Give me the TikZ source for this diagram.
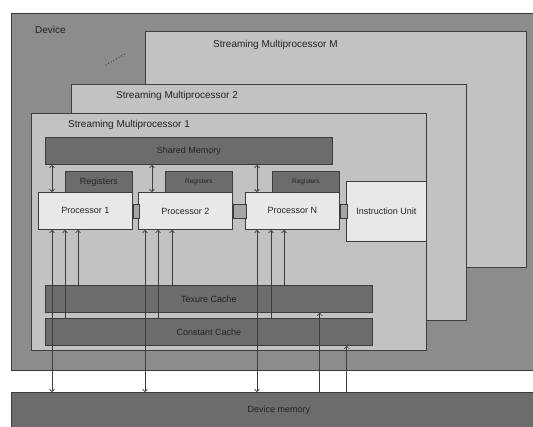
\documentclass[tikz,border=0pt]{standalone}
\usepackage{fontspec}
\setsansfont{Liberation Sans}
\usetikzlibrary{arrows.meta}
\definecolor{devgray}{RGB}{140,140,140}
\definecolor{smgray}{RGB}{194,194,194}
\definecolor{memgray}{RGB}{108,108,108}
\definecolor{progray}{RGB}{232,232,232}
\definecolor{linkgray}{RGB}{165,165,165}
\definecolor{edgegray}{RGB}{60,60,60}
\definecolor{txtgray}{RGB}{35,35,35}
\begin{document}
\begin{tikzpicture}[x=1pt,y=-1pt,font=\sffamily,text=txtgray,
 >={Straight Barb[length=2.5pt,width=5pt]},
 box/.style={draw=edgegray,line width=0.8pt,anchor=north west,inner sep=0pt},
 mem/.style={box,fill=memgray,font=\sffamily\fontsize{9}{10}\selectfont},
 proc/.style={box,fill=progray,minimum width=94pt,minimum height=37pt,font=\sffamily\fontsize{9}{10}\selectfont},
 regs/.style={box,fill=memgray,minimum width=67pt,minimum height=21pt,font=\sffamily\fontsize{6.5}{7}\selectfont},
 link/.style={box,fill=linkgray,anchor=west,minimum height=14pt},
 sm/.style={box,fill=smgray},
 title/.style={anchor=west,inner sep=0pt},
 wire/.style={draw=edgegray,line width=0.7pt}]
\useasboundingbox[fill=white] (0,0) rectangle (533,426);

% device and the multiprocessors
\node[box,fill=devgray,minimum width=523pt,minimum height=357pt] (dev) at (11,13) {};
\node[title] (devt) at (35,30) {Device};
\node[sm,minimum width=381pt,minimum height=236pt] (smm) at (145,31) {};
\node[title] (smmt) at (213,45) {Streaming Multiprocessor M};
\draw[edgegray,line width=1.3pt,line cap=round,dash pattern=on 0pt off 3pt] (106,65) -- (125,54);
\node[sm,minimum width=395pt,minimum height=236pt] (sm2) at (71,84) {};
\node[title] (sm2t) at (116,96) {Streaming Multiprocessor 2};
\node[sm,minimum width=395pt,minimum height=237pt] (sm1) at (31,113) {};
\node[title] (sm1t) at (68,125) {Streaming Multiprocessor 1};

% inside multiprocessor 1
\node[mem,minimum width=287pt,minimum height=27pt] (sm) at (45,137) {Shared Memory};
\node[regs,font=\sffamily\fontsize{9}{10}\selectfont] (r1) at (65,171) {Registers};
\node[regs] (r2) at (165,171) {Registers};
\node[regs] (rn) at (272,171) {Registers};
\node[proc] (p1) at (38,192) {Processor 1};
\node[proc] (p2) at (138,192) {Processor 2};
\node[proc] (pn) at (245,192) {Processor N};
\node[box,fill=progray,minimum width=80pt,minimum height=60pt,font=\sffamily\fontsize{9}{10}\selectfont] (iu) at (346,181) {Instruction Unit};
\node[link,minimum width=6pt] (l1) at (p1.east) {};
\node[link,minimum width=13pt] (l2) at (p2.east) {};
\node[link,minimum width=7pt] (l3) at (pn.east) {};
\node[mem,minimum width=327pt,minimum height=27pt] (tc) at (45,285) {Texure Cache};
\node[mem,minimum width=327pt,minimum height=27pt] (cc) at (45,318) {Constant Cache};
\node[mem,minimum width=530pt,minimum height=40pt] (dm) at (11,392) {};
\node (dmt) at (279,410) {\fontsize{9}{10}\selectfont Device memory};

% connections
\foreach \p/\m/\c/\t/\s in {p1/14/27/40/14,p2/7/20/34/14,pn/12/26/39/12}{
 \path ([xshift=\s pt]\p.north west) coordinate (s)
 ([xshift=\m pt]\p.south west) coordinate (m)
 ([xshift=\c pt]\p.south west) coordinate (c)
 ([xshift=\t pt]\p.south west) coordinate (t);
 \draw[wire,<->] (s |- sm.south) -- (s);
 \draw[wire,<->] (m) -- (m |- dm.north);
 \draw[wire,->] (c |- cc.north) -- (c);
 \draw[wire,->] (t |- tc.north) -- (t);
}
\path ([xshift=-53pt]tc.south east) coordinate (u)
 ([xshift=-26pt]cc.south east) coordinate (v);
\draw[wire,->] (u |- dm.north) -- (u);
\draw[wire,->] (v |- dm.north) -- (v);
\end{tikzpicture}
\end{document}
